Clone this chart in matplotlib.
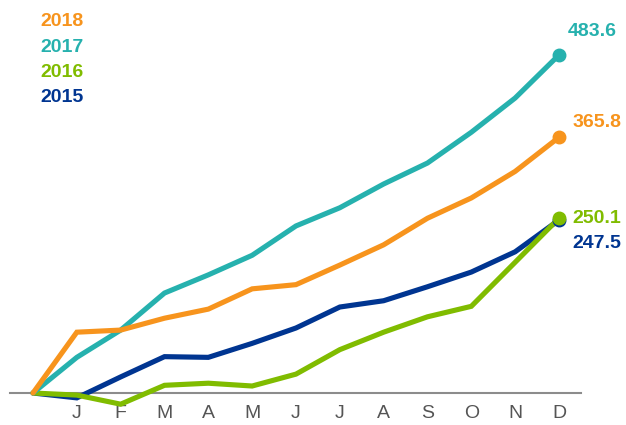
import matplotlib
matplotlib.use("Agg")
import matplotlib.pyplot as plt

plt.rcParams['font.family'] = ['Liberation Sans', 'DejaVu Sans']

months = ["", "J", "F", "M", "A", "M", "J", "J", "A", "S", "O", "N", "D"]
s2018 = [0, 87, 90, 107, 120, 149, 155, 183, 212, 250, 279, 317, 365.8]
s2017 = [0, 51, 90, 143, 169, 197, 239, 265, 299, 329, 373, 422, 483.6]
s2016 = [0, -3, -16, 11, 14, 10, 27, 62, 87, 109, 124, 187, 250.1]
s2015 = [0, -7, 23, 52, 51, 71, 93, 123, 132, 152, 173, 202, 247.5]

series = [
    ("2015", s2015, "#003591"),
    ("2016", s2016, "#80BC00"),
    ("2017", s2017, "#26B1AE"),
    ("2018", s2018, "#F7941D"),
]
label_offsets = {"2017": (6, 17), "2018": (10, 11), "2016": (10, 0), "2015": (10, -17)}

W, H = 626, 425
fig = plt.figure(figsize=(W / 100, H / 100), dpi=100)
ax = fig.add_axes([10 / W, (H - 393) / H, (581 - 10) / W, 393 / H])
x = list(range(len(months)))
ax.set_xlim((10 - 33) / 43.83, (581 - 33) / 43.83)
ax.set_ylim(0, 393 / 0.699)

for name, vals, col in series:
    ax.plot(x, vals, color=col, lw=3.7, solid_joinstyle='miter', solid_capstyle='round', clip_on=False, zorder=3)
    ax.plot(x[-1], vals[-1], 'o', color=col, ms=9, clip_on=False, zorder=4)

for name, vals, col in series:
    dx, dy = label_offsets[name]
    ax.annotate(f"{vals[-1]:.1f}", (x[-1], vals[-1]), xytext=(dx, dy), textcoords='offset points',
                ha='left', va='center', color=col, fontsize=14, fontweight='bold', annotation_clip=False)

for s in ['top', 'right', 'left']:
    ax.spines[s].set_visible(False)
ax.spines['bottom'].set_color('#8c8c8c')
ax.spines['bottom'].set_linewidth(1.5)
ax.spines['bottom'].set_zorder(1)
ax.set_yticks([])
ax.set_xticks(x[1:])
ax.set_xticklabels(months[1:], fontsize=14, color='#555555')
ax.tick_params(axis='x', length=0, pad=9)
ax.set_facecolor('none')

legend_items = [("2018", "#F7941D"), ("2017", "#26B1AE"), ("2016", "#80BC00"), ("2015", "#003591")]
for i, (name, col) in enumerate(legend_items):
    fig.text(40 / W, 1 - (22 + 25.3 * i) / H, name, color=col, fontsize=14, fontweight='bold', ha='left', va='center')

fig.savefig("out.png", dpi=100)
